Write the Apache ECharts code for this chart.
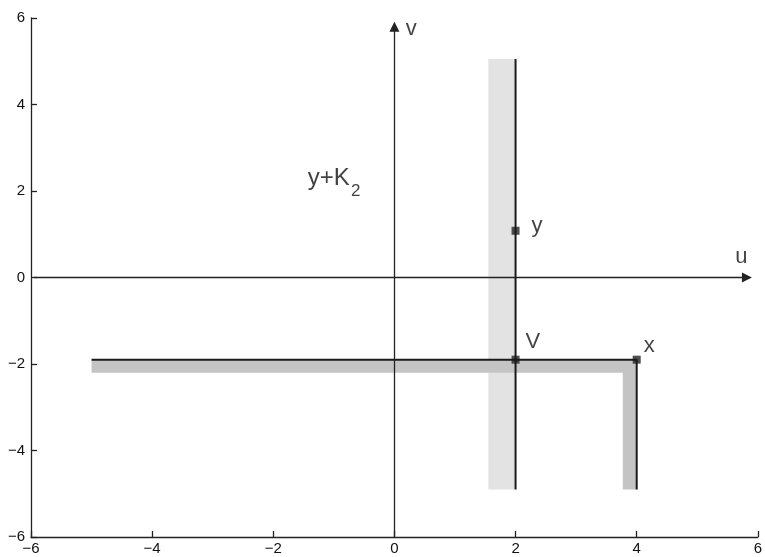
<!DOCTYPE html>
<html><head><meta charset="utf-8">
<script src="https://cdn.jsdelivr.net/npm/echarts@6/dist/echarts.min.js"></script>
<style>html,body{margin:0;padding:0;background:#fff}#c{width:765px;height:557px}</style>
</head><body><div id="c"></div>
<script>
// ---- data ----
const xTicks = [-6, -4, -2, 0, 2, 4, 6];
const yTicks = [-6, -4, -2, 0, 2, 4, 6];
const lightStrip = [[1.55, -4.9], [2, 5.05]];
const darkStripH = [[-5, -2.2], [4, -1.9]];
const darkStripV = [[3.77, -4.9], [4, -1.9]];
const verticalPath = [[2, 5.05], [2, -4.9]];
const cornerPath = [[-5, -1.9], [4, -1.9], [4, -4.9]];
const pointCoords = [[2, 1.08], [2, -1.9], [4, -1.9]];
const pointNames = ['y', 'V', 'x'];
const uAxisEnds = [[-5.95, 0], [5.82, 0]];
const vAxisEnds = [[0, -6], [0, 5.8]];
const annotations = ['u', 'v', 'y+K', '2'];

// ---- chart ----
const FONT = "'Liberation Sans', Arial, Helvetica, sans-serif";
const INK = '#111';
const fmt = v => String(v).replace('-', '\u2212');

const annotationPos = [[5.73, 0.47], [0.28, 5.75], [-1.43, 2.29], [-0.64, 2.0]];
const annotationStyle = [
  {fontSize: 22, position: 'inside'},
  {fontSize: 22, position: 'inside'},
  {fontSize: 24, position: 'right', distance: 0},
  {fontSize: 17, position: 'inside'}
];
const pointLabelCfg = [
  {distance: 12, offset: [0, -5]},
  {distance: 6, offset: [0, -18]},
  {distance: 3, offset: [0, -14]}
];

const chart = echarts.init(document.getElementById('c'), null, {renderer: 'canvas'});

const axisCommon = {
  type: 'value', min: xTicks[0], max: xTicks[xTicks.length - 1], interval: xTicks[1] - xTicks[0],
  axisLine: {show: true, onZero: false, lineStyle: {color: '#222', width: 1.3}},
  axisTick: {show: true, inside: true, length: 6, lineStyle: {color: '#222', width: 1.3}},
  splitLine: {show: false},
  axisLabel: {fontSize: 15, color: INK, fontFamily: FONT, formatter: fmt,
    showMinLabel: true, showMaxLabel: true, hideOverlap: false}
};

const rectArea = (r, color) => ({
  type: 'line', data: [], silent: true,
  markArea: {silent: true, itemStyle: {color: color, borderWidth: 0},
    data: [[{coord: r[0]}, {coord: r[1]}]]}
});

const arrowLine = (ends) => ({
  type: 'line', data: [], silent: true,
  markLine: {silent: true, symbol: ['none', 'triangle'], symbolSize: 10,
    label: {show: false}, lineStyle: {color: '#222', width: 1.3, type: 'solid'},
    itemStyle: {color: '#222'},
    emphasis: {disabled: true},
    data: [[{coord: ends[0]}, {coord: ends[1]}]]}
});

const option = {
  animation: false,
  backgroundColor: '#fff',
  grid: {left: 31, right: 4, top: 18, bottom: 20, containLabel: false},
  xAxis: Object.assign({}, axisCommon, {
    min: xTicks[0], max: xTicks[xTicks.length - 1],
    axisLabel: Object.assign({}, axisCommon.axisLabel, {margin: 4})
  }),
  yAxis: Object.assign({}, axisCommon, {
    min: yTicks[0], max: yTicks[yTicks.length - 1], interval: yTicks[1] - yTicks[0],
    axisLabel: Object.assign({}, axisCommon.axisLabel, {margin: 6})
  }),
  series: [
    rectArea(lightStrip, '#e3e3e3'),
    rectArea(darkStripH, '#c4c4c4'),
    rectArea(darkStripV, '#c4c4c4'),
    arrowLine(uAxisEnds),
    arrowLine(vAxisEnds),
    {type: 'line', data: verticalPath, symbol: 'none', silent: true,
      lineStyle: {color: '#1a1a1a', width: 2}},
    {type: 'line', data: cornerPath, symbol: 'none', silent: true,
      lineStyle: {color: '#1a1a1a', width: 2}},
    {type: 'scatter', silent: true, symbol: 'rect', symbolSize: 8,
      itemStyle: {color: '#222'},
      data: pointCoords.map((c, i) => ({
        value: c,
        label: Object.assign({show: true, formatter: pointNames[i], position: 'right',
          fontSize: 22, color: INK, fontFamily: FONT}, pointLabelCfg[i])
      }))},
    {type: 'scatter', silent: true, symbolSize: 0,
      data: annotations.map((t, i) => ({
        value: annotationPos[i],
        label: Object.assign({show: true, formatter: t, color: INK, fontFamily: FONT},
          annotationStyle[i])
      }))}
  ]
};
chart.setOption(option);
</script>
</body></html>
